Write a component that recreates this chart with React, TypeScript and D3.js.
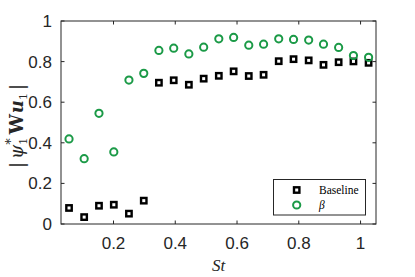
import React from "react"
import * as d3 from "d3"

// Strouhal numbers
const stValues = [
  0.056, 0.105, 0.153, 0.201, 0.25, 0.298, 0.347, 0.395, 0.444, 0.492, 0.541,
  0.589, 0.638, 0.686, 0.735, 0.783, 0.832, 0.88, 0.929, 0.977, 1.026,
]
const baseline = [
  0.079, 0.034, 0.09, 0.095, 0.051, 0.115, 0.696, 0.708, 0.686, 0.716, 0.73,
  0.752, 0.729, 0.735, 0.802, 0.812, 0.806, 0.784, 0.797, 0.801, 0.794,
]
const beta = [
  0.419, 0.322, 0.545, 0.355, 0.709, 0.742, 0.855, 0.866, 0.838, 0.871, 0.912,
  0.919, 0.881, 0.886, 0.912, 0.909, 0.906, 0.886, 0.87, 0.83, 0.821,
]
const xTicks = [0.2, 0.4, 0.6, 0.8, 1]
const yTicks = [0, 0.2, 0.4, 0.6, 0.8, 1]

const W = 415
const H = 277
const M = { left: 61, right: 39, top: 21, bottom: 53 }
const AXIS = "#262626"
const GREEN = "#1b9a47"
const TICK_FONT = "'Liberation Sans', Arial, sans-serif"
const SERIF = "'Liberation Serif', 'Times New Roman', serif"
const LABEL_FONT = "'DejaVu Serif', serif"

export default function App() {
  const x = d3.scaleLinear().domain([0.03, 1.05]).range([M.left, W - M.right])
  const y = d3.scaleLinear().domain([0, 1]).range([H - M.bottom, M.top])
  const [x0, x1] = x.range()
  const [yb, yt] = y.range()
  const fmt = (v: number) => (v === 0 || v === 1 ? String(v) : d3.format(".1f")(v))
  const tl = 3.5
  const sq = 5.4

  return (
    <svg width={W} height={H} style={{ position: "absolute", left: 0, top: 0, background: "#fff" }}>
      <rect x={0} y={0} width={W} height={H} fill="#fff" />
      {/* box */}
      <rect x={x0} y={yt} width={x1 - x0} height={yb - yt} fill="none" stroke={AXIS} strokeWidth={1} />
      {xTicks.map(t => (
        <g key={"x" + t}>
          <line x1={x(t)} x2={x(t)} y1={yb} y2={yb - tl} stroke={AXIS} />
          <line x1={x(t)} x2={x(t)} y1={yt} y2={yt + tl} stroke={AXIS} />
          <text x={x(t)} y={yb + 25} textAnchor="middle" fontFamily={TICK_FONT} fontSize={17} fill={AXIS}>
            {fmt(t)}
          </text>
        </g>
      ))}
      {yTicks.map(t => (
        <g key={"y" + t}>
          <line x1={x0} x2={x0 + tl} y1={y(t)} y2={y(t)} stroke={AXIS} />
          <line x1={x1} x2={x1 - tl} y1={y(t)} y2={y(t)} stroke={AXIS} />
          <text x={x0 - 9} y={y(t) + 6} textAnchor="end" fontFamily={TICK_FONT} fontSize={17} fill={AXIS}>
            {fmt(t)}
          </text>
        </g>
      ))}

      {/* series */}
      {baseline.map((v, i) => (
        <rect key={"b" + i} x={x(stValues[i]) - sq / 2} y={y(v) - sq / 2} width={sq} height={sq}
          fill="#fff" stroke="#000" strokeWidth={2.4} />
      ))}
      {beta.map((v, i) => (
        <circle key={"c" + i} cx={x(stValues[i])} cy={y(v)} r={3.6}
          fill="none" stroke={GREEN} strokeWidth={2} />
      ))}

      {/* axis labels */}
      <text x={(x0 + x1) / 2} y={271} textAnchor="middle" fontFamily={SERIF} fontStyle="italic" fontSize={17} fill={AXIS}>
        St
      </text>
      <text transform="translate(23, 126) rotate(-90)" textAnchor="middle"
        fontFamily={LABEL_FONT} fontSize={18} fill={AXIS}>
        <tspan>|</tspan>
        <tspan fontStyle="italic" dx={3}>ψ</tspan>
        <tspan fontSize={11} dy={4}>1</tspan>
        <tspan fontSize={13} dx={-7} dy={-12}>*</tspan>
        <tspan fontWeight="bold" dx={4} dy={8}>W</tspan>
        <tspan fontWeight="bold" fontStyle="italic" dx={1}>u</tspan>
        <tspan fontSize={11} dy={4}>1</tspan>
        <tspan dx={3} dy={-4}>|</tspan>
      </text>

      {/* legend */}
      <g>
        <rect x={273.5} y={179.5} width={92} height={35.5} fill="#fff" stroke={AXIS} strokeWidth={1} />
        <rect x={296.7 - sq / 2} y={190 - sq / 2} width={sq} height={sq} fill="#fff" stroke="#000" strokeWidth={2.4} />
        <circle cx={296.7} cy={205} r={3.6} fill="none" stroke={GREEN} strokeWidth={2} />
        <text x={319} y={194} fontFamily={SERIF} fontSize={11.5} fill="#000">Baseline</text>
        <text x={319} y={209} fontFamily={SERIF} fontStyle="italic" fontSize={11.5} fill="#000">β</text>
      </g>
    </svg>
  )
}
